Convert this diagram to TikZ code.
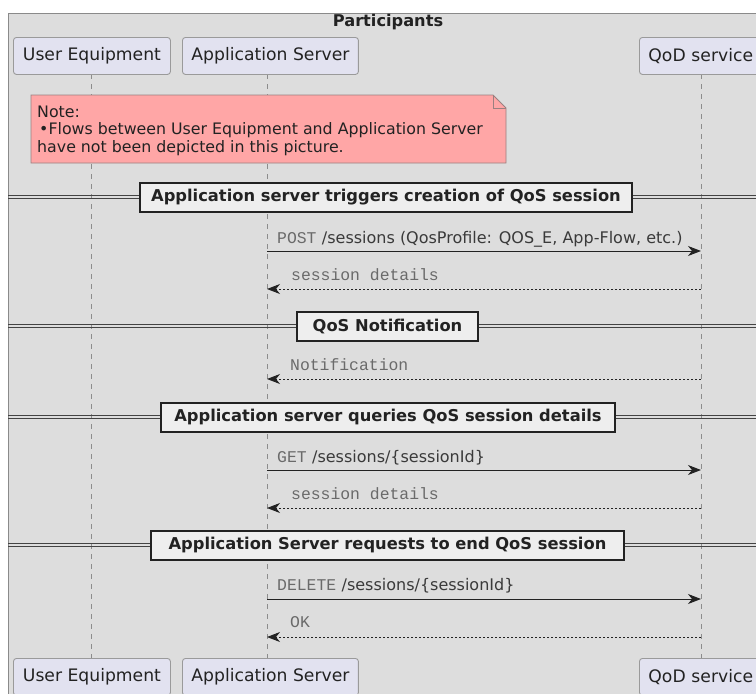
\documentclass[tikz,border=0pt]{standalone}
\usepackage{fontspec}
\setmainfont{DejaVu Sans}
\newfontfamily\monofont{Liberation Mono}
\usetikzlibrary{arrows.meta}

\definecolor{framefill}{HTML}{DDDDDD}
\definecolor{frameline}{HTML}{8A8A8A}
\definecolor{partfill}{HTML}{E2E2F0}
\definecolor{partline}{HTML}{9A9A9A}
\definecolor{notefill}{HTML}{FFA6A6}
\definecolor{noteline}{HTML}{9A8080}
\definecolor{divfill}{HTML}{EEEEEE}
\definecolor{inkdark}{HTML}{222222}
\definecolor{labelsans}{HTML}{3A3A3A}
\definecolor{labelmono}{HTML}{6A6A6A}
\definecolor{lifeline}{HTML}{8C8C8C}

\begin{document}
\begin{tikzpicture}[x=1pt,y=-1pt,
  partbox/.style={draw=partline, fill=partfill, line width=0.9pt, rounded corners=3pt,
    minimum height=37pt, inner xsep=9pt, inner ysep=0pt, anchor=north west,
    font=\fontsize{17.2}{20}\selectfont, text=inkdark},
  divbox/.style={draw=inkdark, fill=divfill, line width=2pt, minimum height=29pt,
    inner sep=0pt, font=\bfseries\fontsize{16.3}{18}\selectfont, text=inkdark},
  divline/.style={draw=inkdark!85, line width=0.8pt},
  lifestyle/.style={draw=lifeline, line width=0.9pt, dash pattern=on 5pt off 5pt},
  callarrow/.style={draw=inkdark, line width=1pt,
    -{Stealth[length=13pt, width=10pt, inset=4pt]}},
  retarrow/.style={draw=inkdark, line width=1pt, dash pattern=on 2pt off 2pt,
    -{Stealth[length=13pt, width=10pt, inset=4pt]}},
  monolabel/.style={anchor=base west, inner sep=0pt, text=labelmono,
    font=\monofont\fontsize{16.4}{18}\selectfont},
  calllabel/.style={anchor=base west, inner sep=0pt, text=labelsans,
    font=\fontsize{16}{18}\selectfont},
]
\useasboundingbox (0,0) rectangle (756,694);
\clip (0,0) rectangle (756,694);

% background and participants frame
\fill[white] (0,0) rectangle (756,694);
\draw[draw=frameline, fill=framefill, line width=1pt] (8,13) rectangle (790,720);
\node[font=\bfseries\fontsize{16.2}{18}\selectfont, text=inkdark, inner sep=0pt] (title) at (388,22) {Participants};

% lifelines
\coordinate (ueTop) at (91,74);   \coordinate (ueBot) at (91,658);
\coordinate (asTop) at (267,74);  \coordinate (asBot) at (267,658);
\coordinate (qodTop) at (701,74); \coordinate (qodBot) at (701,658);
\draw[lifestyle] (ueTop) -- (ueBot);
\draw[lifestyle] (asTop) -- (asBot);
\draw[lifestyle] (qodTop) -- (qodBot);

% participant heads and feet
\node[partbox, minimum width=157pt] (ueHead) at (13,37) {User Equipment};
\node[partbox, minimum width=172pt] (asHead) at (182,37) {Application Server};
\node[partbox, minimum width=130pt, text width=112pt, align=left] (qodHead) at (639,37) {QoD service};
\node[partbox, minimum width=157pt] (ueFoot) at (13,658) {User Equipment};
\node[partbox, minimum width=172pt] (asFoot) at (182,658) {Application Server};
\node[partbox, minimum width=130pt, text width=112pt, align=left] (qodFoot) at (639,658) {QoD service};

% note
\draw[draw=noteline, fill=notefill, line width=0.8pt]
  (31,95) -- (493,95) -- (506,108) -- (506,163) -- (31,163) -- cycle;
\draw[draw=noteline, line width=0.8pt] (493,95) -- (493,108) -- (506,108);
\node[anchor=north west, inner sep=0pt, align=left, text=inkdark,
  font=\fontsize{15.8}{18}\selectfont] (note) at (37,105.5)
  {Note:\\[-0.5pt]\hspace*{2pt}\textbullet Flows between User Equipment and Application Server\\have not been depicted in this picture.};

% section dividers
\foreach \yy in {197,326,417,545}{
  \draw[divline] (8,\yy-1.6) -- (790,\yy-1.6);
  \draw[divline] (8,\yy+1.6) -- (790,\yy+1.6);
}
\node[divbox, minimum width=492pt] (div1) at (386,197) {Application server triggers creation of QoS session};
\node[divbox, minimum width=181pt] (div2) at (387.5,326) {QoS Notification};
\node[divbox, minimum width=454pt] (div3) at (388,417) {Application server queries QoS session details};
\node[divbox, minimum width=473pt] (div4) at (387.5,545) {Application Server requests to end QoS session};

% message end points on the lifelines
\coordinate (postA) at (267,251); \coordinate (postQ) at (701,251);
\coordinate (ret1A) at (267,289); \coordinate (ret1Q) at (701,289);
\coordinate (notA)  at (267,379); \coordinate (notQ)  at (701,379);
\coordinate (getA)  at (267,470); \coordinate (getQ)  at (701,470);
\coordinate (ret2A) at (267,508); \coordinate (ret2Q) at (701,508);
\coordinate (delA)  at (267,599); \coordinate (delQ)  at (701,599);
\coordinate (okA)   at (267,637); \coordinate (okQ)   at (701,637);

% messages
\draw[callarrow] (postA) -- (postQ);
\node[monolabel] (postVerb) at (277,243) {POST};
\node[calllabel, anchor=base west] (postPath) at ([xshift=5pt]postVerb.base east) {/sessions (QosProfile: QOS\_E, App-Flow, etc.)};

\draw[retarrow] (ret1Q) -- (ret1A);
\node[monolabel] (ret1Label) at (291,280) {session details};

\draw[retarrow] (notQ) -- (notA);
\node[monolabel] (notLabel) at (290,370) {Notification};

\draw[callarrow] (getA) -- (getQ);
\node[monolabel] (getVerb) at (277,462) {GET};
\node[calllabel, anchor=base west] (getPath) at ([xshift=5pt]getVerb.base east) {/sessions/\{sessionId\}};

\draw[retarrow] (ret2Q) -- (ret2A);
\node[monolabel] (ret2Label) at (291,499) {session details};

\draw[callarrow] (delA) -- (delQ);
\node[monolabel] (delVerb) at (277,590) {DELETE};
\node[calllabel, anchor=base west] (delPath) at ([xshift=5pt]delVerb.base east) {/sessions/\{sessionId\}};

\draw[retarrow] (okQ) -- (okA);
\node[monolabel] (okLabel) at (290,627) {OK};
\end{tikzpicture}
\end{document}
